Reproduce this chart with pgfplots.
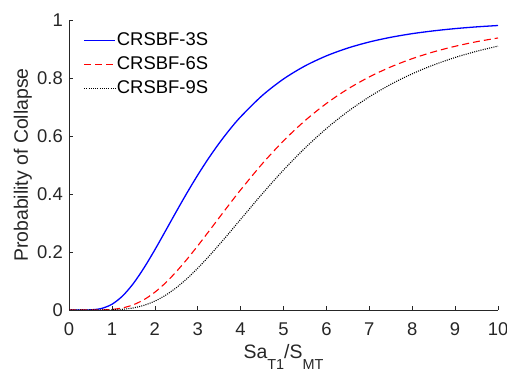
\documentclass[border=0pt]{standalone}
\usepackage{fontspec}
\setmainfont{Liberation Sans}
\usepackage{pgfplots}
\pgfplotsset{compat=1.18}
\definecolor{axgray}{RGB}{38,38,38}
\begin{document}
\begin{tikzpicture}
\path[use as bounding box] (0,0) rectangle (507bp,372bp);
\begin{axis}[
  at={(69bp,62bp)}, anchor=south west,
  width=429bp, height=290bp, scale only axis,
  xmin=0, xmax=10, ymin=0, ymax=1,
  axis x line*=bottom, axis y line*=left,
  axis line style={axgray, line width=0.6bp},
  xtick={0,1,...,10}, ytick={0,0.2,0.4,0.6,0.8,1},
  tick align=inside, major tick length=4bp,
  tick style={axgray, line width=0.6bp},
  /pgf/number format/assume math mode=true,
  ticklabel style={font=\fontsize{18.5}{22}\selectfont, text=axgray},
  xticklabel style={anchor=north, inner sep=0pt, yshift=-12.5bp},
  yticklabel style={anchor=east, inner sep=0pt, xshift=-6bp},
  xlabel={Sa\raisebox{-11bp}{\fontsize{14.5}{15}\selectfont T1}/S\raisebox{-11bp}{\fontsize{14.5}{15}\selectfont MT}},
  ylabel={Probability of Collapse},
  xlabel style={font=\fontsize{19.5}{22}\selectfont, text=axgray, inner sep=0pt,
    at={(axis description cs:0.5,-0.168)}, anchor=base},
  ylabel style={font=\fontsize{19.5}{22}\selectfont, text=axgray, inner sep=0pt,
    at={(axis description cs:-0.096,0.5)}, anchor=base},
  legend style={draw=none, fill=none, at={(0.0336,0.9707)}, anchor=north west,
    font=\fontsize{18.5}{22}\selectfont, row sep=0pt, column sep=1bp, inner sep=0pt,
    nodes={inner sep=0pt, text height=16.5bp, text depth=7.5bp}},
  legend cell align=left,
  legend image code/.code={\draw[#1] (0bp,0bp) -- (31bp,0bp);},
]
\addplot[blue, line width=1.3bp, smooth] coordinates {
(0,0) (0.25,0) (0.5,0.0005) (0.75,0.0050) (1,0.0197) (1.25,0.0486) (1.5,0.0914) (1.75,0.1457)
(2,0.2073) (2.25,0.2729) (2.5,0.3391) (2.75,0.4037) (3,0.4651) (3.25,0.5224) (3.5,0.5750)
(3.75,0.6229) (4,0.6660) (4.5,0.7390) (5,0.7966) (5.5,0.8415) (6,0.8763) (6.5,0.9033)
(7,0.9242) (7.5,0.9403) (8,0.9529) (8.5,0.9626) (9,0.9703) (9.5,0.9763) (10,0.9810)};
\addlegendentry{CRSBF-3S}
\addplot[red, line width=1.1bp, dash pattern=on 7bp off 4bp, smooth] coordinates {
(0,0) (0.25,0) (0.5,0) (0.75,0.0003) (1,0.0020) (1.25,0.0072) (1.5,0.0180) (1.75,0.0359)
(2,0.0612) (2.25,0.0935) (2.5,0.1320) (2.75,0.1749) (3,0.2212) (3.25,0.2694) (3.5,0.3182)
(3.75,0.3667) (4,0.4141) (4.5,0.5034) (5,0.5833) (5.5,0.6528) (6,0.7122) (6.5,0.7621)
(7,0.8037) (7.5,0.8382) (8,0.8667) (8.5,0.8901) (9,0.9093) (9.5,0.9251) (10,0.9380)};
\addlegendentry{CRSBF-6S}
\addplot[black, line width=1.1bp, dash pattern=on 1bp off 1.2bp, smooth] coordinates {
(0,0) (0.25,0) (0.5,0) (0.75,0.0001) (1,0.0006) (1.25,0.0025) (1.5,0.0072) (1.75,0.0162)
(2,0.0306) (2.25,0.0508) (2.5,0.0768) (2.75,0.1081) (3,0.1439) (3.25,0.1833) (3.5,0.2251)
(3.75,0.2684) (4,0.3125) (4.5,0.3999) (5,0.4827) (5.5,0.5583) (6,0.6257) (6.5,0.6845)
(7,0.7350) (7.5,0.7781) (8,0.8145) (8.5,0.8451) (9,0.8707) (9.5,0.8921) (10,0.9099)};
\addlegendentry{CRSBF-9S}
\end{axis}
\end{tikzpicture}
\end{document}
